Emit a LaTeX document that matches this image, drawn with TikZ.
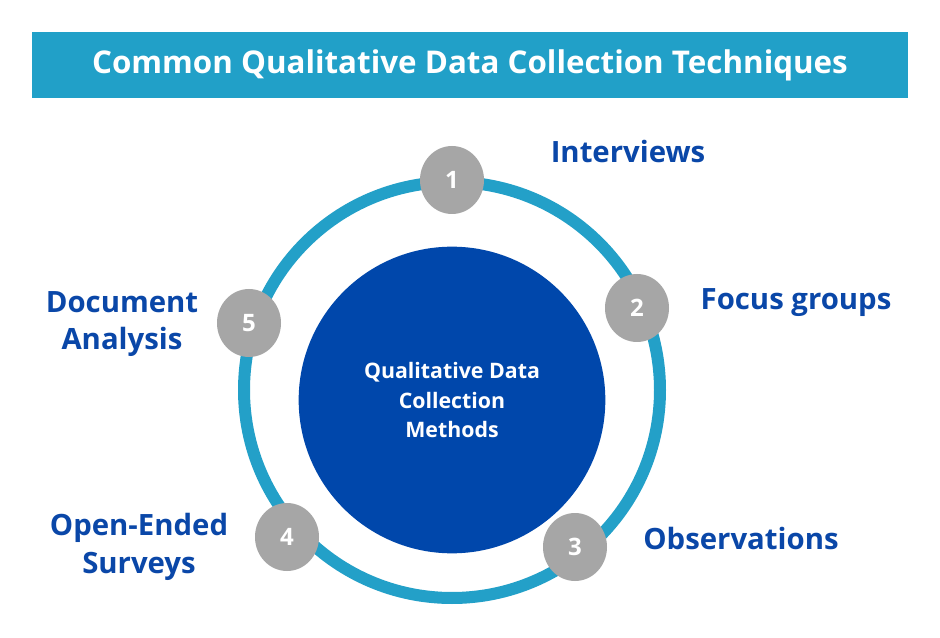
\documentclass[tikz,border=0pt]{standalone}
\usepackage{fontspec}
\usetikzlibrary{shapes.geometric}
\setmainfont{Open Sans}
\definecolor{bar}{HTML}{21A0C8}
\definecolor{ring}{HTML}{23A0C8}
\definecolor{core}{HTML}{0047AB}
\definecolor{numg}{HTML}{A6A6A6}
\definecolor{lab}{HTML}{0A47A8}
\begin{document}
\begin{tikzpicture}[x=0.75pt,y=-0.75pt,
  num/.style={ellipse,fill=numg,minimum width=48pt,minimum height=51pt,inner sep=0pt,text=white,font=\fontsize{18}{20}\selectfont\bfseries},
  lbl/.style={text=lab,font=\fontsize{22}{28}\selectfont\bfseries,align=center}]
\useasboundingbox (0,0) rectangle (940,638);
\fill[white] (0,0) rectangle (940,638);
\node[fill=bar,minimum width=657pt,minimum height=50pt,inner sep=0pt,text=white,font=\fontsize{23.5}{28}\selectfont\bfseries] (title) at (470,65) {Common Qualitative Data Collection Techniques};
\draw[ring,line width=9pt] (452,390) circle[radius=156pt];
\node[circle,fill=core,minimum size=230pt,inner sep=0pt,text=white,align=center,font=\fontsize{16}{22}\selectfont\bfseries] (c) at (452,400) {Qualitative Data\\Collection\\Methods};
\node[num] (n1) at (452,180) {1};
\node[num] (n2) at (637,308) {2};
\node[num] (n3) at (575,547) {3};
\node[num] (n4) at (287,537) {4};
\node[num] (n5) at (249,323) {5};
\node[lbl] (l1) at (628,152) {Interviews};
\node[lbl] (l2) at (796,303) {Focus groups};
\node[lbl] (l3) at (741,538) {Observations};
\node[lbl] (l4) at (139,547) {Open-Ended\\Surveys};
\node[lbl] (l5) at (122,324) {Document\\Analysis};
\end{tikzpicture}
\end{document}
